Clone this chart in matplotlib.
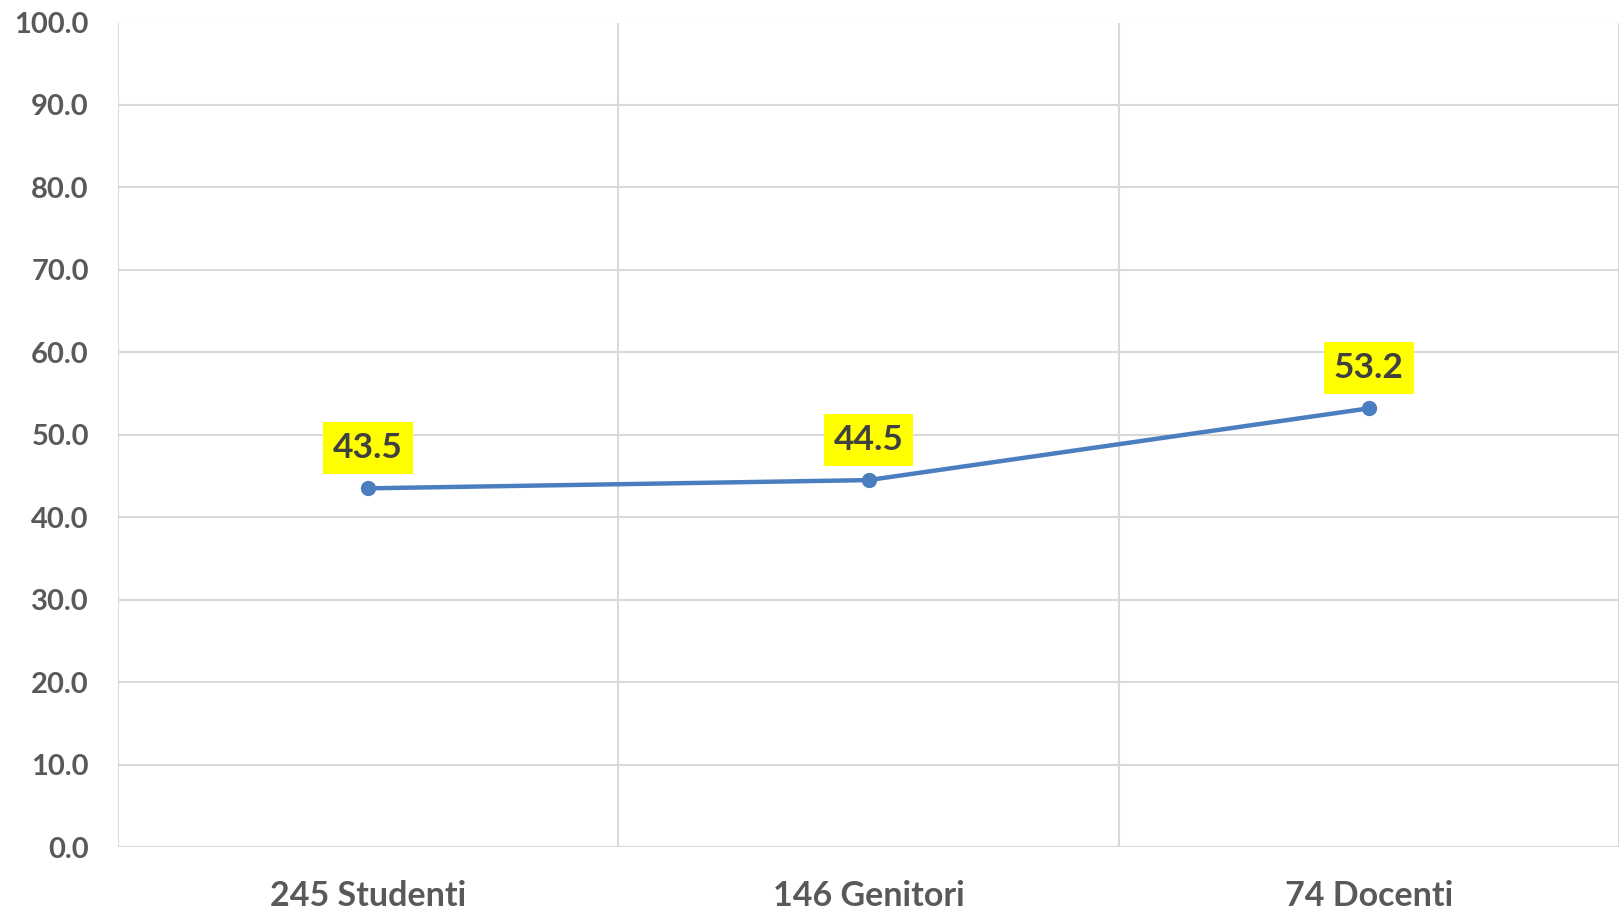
import matplotlib
matplotlib.use("Agg")
import matplotlib.pyplot as plt
from matplotlib.ticker import FixedLocator

categories = ["245 Studenti", "146 Genitori", "74 Docenti"]
values = [43.5, 44.5, 53.2]
yticks = [0, 10, 20, 30, 40, 50, 60, 70, 80, 90, 100]

plt.rcParams['font.family'] = ['Lato', 'DejaVu Sans']

fig = plt.figure(figsize=(16.19, 9.11), dpi=100)
ax = fig.add_axes([118/1619, 1 - 847/911, 1 - 118/1619, (847 - 22.5)/911])

x = [i + 0.5 for i in range(len(categories))]
ax.plot(x, values, color="#4A7EBF", lw=3.2, marker="o", markersize=10,
        solid_capstyle="round", zorder=3, clip_on=False)

for xi, v in zip(x, values):
    ax.annotate(f"{v:.1f}", (xi, v), xytext=(0, 29), textcoords="offset points",
                ha="center", va="center", fontsize=25.5, fontweight="bold",
                color="#404040",
                bbox=dict(boxstyle="square,pad=0.28", fc="#FFFF00", ec="none"))

ax.set_xlim(0, 3)
ax.set_ylim(0, 100)
ax.set_yticks(yticks)
ax.set_yticklabels([f"{t:.1f}" for t in yticks])
ax.set_xticks(x)
ax.set_xticklabels(categories)
ax.xaxis.set_minor_locator(FixedLocator([0, 1, 2, 3]))

ax.grid(axis="y", which="major", color="#D9D9D9", lw=1.5)
ax.grid(axis="x", which="minor", color="#D9D9D9", lw=1.5)
ax.grid(axis="x", which="major", visible=False)
ax.set_axisbelow(True)
for s in ax.spines.values():
    s.set_visible(False)

ax.tick_params(axis="y", length=0, pad=21, labelsize=21, labelcolor="#595959")
ax.tick_params(axis="x", which="both", length=0, pad=24, labelsize=24.5, labelcolor="#595959")
for lab in ax.get_yticklabels() + ax.get_xticklabels():
    lab.set_fontweight("bold")

fig.savefig("out.png", dpi=100)
